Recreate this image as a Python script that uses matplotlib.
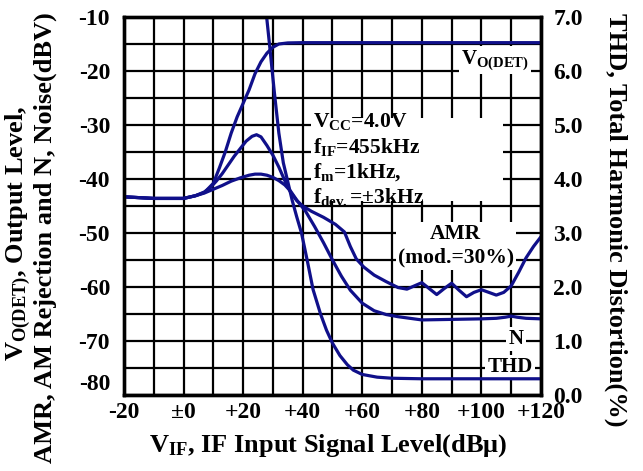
import numpy as np
import matplotlib
matplotlib.use('Agg')
from matplotlib import pyplot as plt
from matplotlib.patches import Rectangle

plt.rcParams['font.family'] = 'Liberation Serif'
plt.rcParams['font.weight'] = 'bold'
plt.rcParams['mathtext.fontset'] = 'custom'
plt.rcParams['mathtext.rm'] = 'Liberation Serif:bold'
plt.rcParams['mathtext.it'] = 'Liberation Serif:bold'
plt.rcParams['mathtext.bf'] = 'Liberation Serif:bold'

# values (x = dBu, y = dBV)
vo_x = [-20, -10, 0, 4, 7, 10, 12, 14, 16, 18, 20, 22, 24, 26, 28, 30, 32, 35, 40, 60, 80, 100, 120]
vo_y = [-43.3, -43.6, -43.6, -43.1, -42.5, -40.8, -38.0, -35.0, -31.5, -28.5, -26.0, -23.5, -20.5,
        -18.3, -16.7, -15.6, -15.0, -14.8, -14.75, -14.75, -14.75, -14.75, -14.75]

amr_x = [-20, -10, 0, 4, 7, 9, 11, 13, 15, 17, 19, 21, 23, 24.5, 26, 28, 30, 32, 34, 36, 38, 40,
         43, 47, 51, 54, 56, 58, 60.5, 64, 68, 72, 75, 77.5, 80, 82.5, 85, 87.5, 90, 92.5, 95,
         97.5, 100, 102.5, 105, 107.5, 110, 112.5, 115, 117.5, 120]
amr_y = [-43.3, -43.6, -43.6, -43.1, -42.4, -41.6, -40.4, -39.0, -37.4, -35.8, -34.4, -33.0, -32.1,
         -31.8, -32.2, -33.8, -35.6, -37.8, -40.3, -42.5, -44.0, -45.0, -46.0, -47.1, -48.4, -49.8,
         -52.5, -54.8, -56.3, -57.8, -59.0, -60.1, -60.4, -59.8, -59.2, -60.3, -61.4, -60.3, -59.3,
         -60.6, -61.8, -61.0, -60.5, -61.0, -61.5, -61.0, -59.8, -57.3, -54.6, -52.5, -50.7]

n_x = [-20, -10, 0, 4, 7, 10, 13, 16, 19, 22, 24, 26, 28, 30, 32, 34, 36, 38, 41, 44, 47, 50, 53,
       56, 60, 64, 68, 72, 76, 80, 90, 100, 105, 108, 110, 112, 115, 120]
n_y = [-43.3, -43.6, -43.6, -43.1, -42.6, -41.9, -41.2, -40.4, -39.8, -39.3, -39.1, -39.1, -39.3,
       -39.7, -40.3, -41.1, -42.3, -43.9, -46.0, -48.8, -51.8, -55.0, -58.0, -60.6, -63.0, -64.4,
       -65.1, -65.5, -65.8, -66.1, -66.0, -65.9, -65.8, -65.6, -65.4, -65.6, -65.8, -65.9]

thd_x = [27.9, 29, 30.5, 32, 33.5, 35, 36.5, 38, 39.6, 41.5, 43.5, 46, 48, 50, 52.5, 55, 57, 60,
         65, 70, 80, 100, 120]
thd_y = [-10.0, -15.8, -24.0, -31.5, -37.0, -40.5, -44.0, -47.0, -50.0, -55.0, -60.5, -65.0, -68.0,
         -70.4, -72.7, -74.4, -75.4, -76.2, -76.7, -76.9, -77.0, -77.0, -77.0]

x_ticks = [-20, 0, 20, 40, 60, 80, 100, 120]
x_tick_labels = ['-20', '±0', '+20', '+40', '+60', '+80', '+100', '+120']
y_ticks = [-80, -70, -60, -50, -40, -30, -20, -10]
y_tick_labels = ['-80', '-70', '-60', '-50', '-40', '-30', '-20', '-10']
thd_ticks = [0, 1, 2, 3, 4, 5, 6, 7]
thd_tick_labels = ['0.0', '1.0', '2.0', '3.0', '4.0', '5.0', '6.0', '7.0']

line_col = '#10108a'

fig = plt.figure(figsize=(6.43, 4.71), dpi=100)
ax = fig.add_axes([0.1928, 0.1614, 0.6485, 0.8025])

ax.set_xlim(-20, 120)
ax.set_ylim(-80, -10)
ax.set_xticks(x_ticks)
ax.set_xticklabels(x_tick_labels)
ax.set_xticks(np.arange(-20, 121, 10), minor=True)
ax.set_yticks(y_ticks)
ax.set_yticklabels(y_tick_labels)
ax.set_yticks(np.arange(-80, -9, 5), minor=True)
ax.grid(which='major', color='black', linewidth=1.6)
ax.grid(which='minor', color='black', linewidth=1.6)
ax.set_axisbelow(True)
ax.tick_params(which='both', length=0, labelsize=17)
ax.tick_params(axis='x', pad=5)
ax.tick_params(axis='y', pad=10)
# bottom label sits a little above its gridline, like the original
ax.get_yticklabels()[0].set_va('bottom')
for s in ax.spines.values():
    s.set_linewidth(2.4)

for xs, ys in [(vo_x, vo_y), (amr_x, amr_y), (n_x, n_y), (thd_x, thd_y)]:
    ax.plot(xs, ys, color=line_col, linewidth=2.3, zorder=4)

# white box behind the conditions
ax.add_patch(Rectangle((42.8, -44.1), 64.4, 15.4, facecolor='white', edgecolor='none', zorder=2.5))
cond = [r'V$_{\mathrm{CC}}$=4.0V', r'f$_{\mathrm{IF}}$=455kHz', r'f$_{\mathrm{m}}$=1kHz,',
        r'f$_{\mathrm{dev.}}$=±3kHz']
for i, t in enumerate(cond):
    ax.text(43.4, -29.4 - 4.63 * i, t, fontsize=15.5, ha='left', va='center', zorder=3)

box = dict(facecolor='white', edgecolor='none', pad=1.5)
ax.text(104.6, -18, r'V$_{\mathrm{O(DET)}}$', fontsize=15, ha='center', va='center', bbox=box, zorder=3)
ax.text(91.4, -52.4, 'AMR\n(mod.=30%)', fontsize=15.5, ha='center', va='center',
        linespacing=1.2, bbox=box, zorder=3)
ax.text(111.6, -69.6, 'N', fontsize=15, ha='center', va='center', bbox=box, zorder=3)
ax.text(109.6, -74.8, 'THD', fontsize=15, ha='center', va='center', bbox=box, zorder=3)

ax2 = ax.twinx()
ax2.set_ylim(0, 7)
ax2.set_yticks(thd_ticks)
ax2.set_yticklabels(thd_tick_labels)
ax2.tick_params(length=0, labelsize=17, pad=9)
for s in ax2.spines.values():
    s.set_linewidth(2.4)

fig.text(0.029, 0.505, r'V$_{\mathrm{O(DET)}}$, Output Level,', fontsize=19, rotation=90,
         ha='center', va='center')
fig.text(0.071, 0.495, 'AMR, AM Rejection and N, Noise(dBV)', fontsize=19, rotation=90,
         ha='center', va='center')
fig.text(0.957, 0.533, 'THD, Total Harmonic Distortion(%)', fontsize=19, rotation=270,
         ha='center', va='center')
fig.text(0.511, 0.041, r'V$_{\mathrm{IF}}$, IF Input Signal Level(dBμ)', fontsize=19,
         ha='center', va='baseline')

fig.savefig('out.png', dpi=100)
